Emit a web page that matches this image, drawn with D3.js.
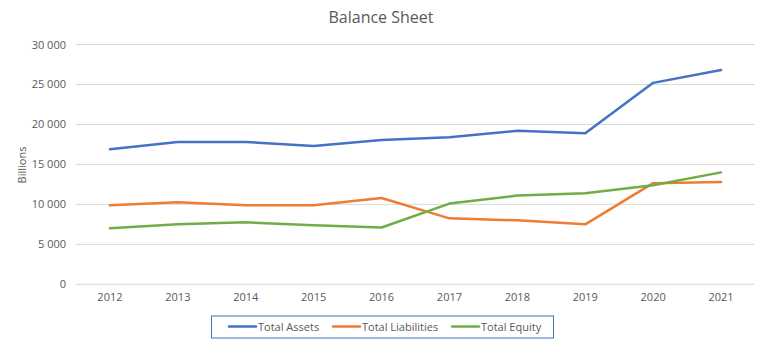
<!DOCTYPE html>
<html><head><meta charset="utf-8">
<script src="https://cdn.jsdelivr.net/npm/d3@7"></script>
<style>body{margin:0;background:#fff;} text{font-family:"Open Sans","Liberation Sans",sans-serif;}</style>
</head><body><svg id="c" width="764" height="343"></svg>
<script>
const years = ["2012","2013","2014","2015","2016","2017","2018","2019","2020","2021"];
const totalAssets = [16900,17800,17800,17300,18050,18400,19200,18900,25200,26800];
const totalLiabilities = [9900,10250,9900,9900,10800,8250,8000,7500,12650,12800];
const totalEquity = [7000,7500,7750,7400,7100,10100,11100,11400,12400,14000];
const yTicks = [0,5000,10000,15000,20000,25000,30000];
const seriesNames = ["Total Assets","Total Liabilities","Total Equity"];
const seriesColors = ["#4472C4","#ED7D31","#70AD47"];
const seriesData = [totalAssets,totalLiabilities,totalEquity];

const svg = d3.select("#c");
svg.append("rect").attr("width",764).attr("height",343).attr("fill","#fff");
const L=76,R=755,T=44.5,B=284.3;
const x = d3.scaleBand().domain(years).range([L,R]);
const y = d3.scaleLinear().domain([0,30000]).range([B,T]);
const fmt = v => d3.format(",")(v).replace(/,/g," ");

// gridlines
svg.append("g").selectAll("line").data(yTicks).join("line")
  .attr("x1",L).attr("x2",R).attr("y1",d=>y(d)).attr("y2",d=>y(d))
  .attr("stroke","#D9D9D9").attr("stroke-width",1);

// y axis
const ya = svg.append("g").attr("transform",`translate(${L},0)`)
  .call(d3.axisLeft(y).tickValues(yTicks).tickFormat(fmt).tickSize(0).tickPadding(10));
ya.select(".domain").remove();
ya.selectAll("text").attr("fill","#595959").attr("font-size","11px");

// x axis
const xa = svg.append("g").attr("transform",`translate(0,${B})`)
  .call(d3.axisBottom(x).tickSize(0).tickPadding(9));
xa.select(".domain").remove();
xa.selectAll("text").attr("fill","#595959").attr("font-size","11px");

// lines
const line = d3.line().x((d,i)=>x(years[i])+x.bandwidth()/2).y(d=>y(d));
seriesData.forEach((s,k)=>{
  svg.append("path").datum(s).attr("d",line).attr("fill","none")
    .attr("stroke",seriesColors[k]).attr("stroke-width",2.5).attr("stroke-linejoin","round").attr("stroke-linecap","round");
});

// title
svg.append("text").attr("x",381).attr("y",23).attr("text-anchor","middle")
  .attr("font-size","16px").attr("fill","#595959").text("Balance Sheet");
// y title
svg.append("text").attr("transform","translate(26,165) rotate(-90)").attr("text-anchor","middle")
  .attr("font-size","11px").attr("fill","#595959").text("Billions");

// legend
svg.append("rect").attr("x",211.5).attr("y",316).attr("width",342).attr("height",22)
  .attr("fill","none").attr("stroke","#4472C4").attr("stroke-width",1);
const legX=[229,333,452];
seriesNames.forEach((n,k)=>{
  svg.append("line").attr("x1",legX[k]).attr("x2",legX[k]+27).attr("y1",326.5).attr("y2",326.5)
    .attr("stroke",seriesColors[k]).attr("stroke-width",2.5).attr("stroke-linecap","round");
  svg.append("text").attr("x",legX[k]+29).attr("y",330.5).attr("font-size","11px").attr("fill","#595959").text(n);
});
</script></body></html>
